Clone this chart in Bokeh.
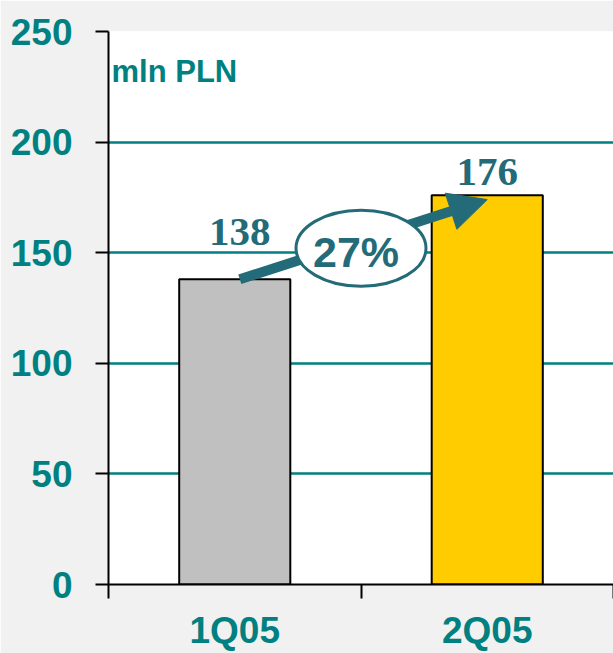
from bokeh.plotting import figure
from bokeh.models import Range1d, FixedTicker, LabelSet, Label, ColumnDataSource, Arrow, NormalHead
from bokeh.core.properties import value
from bokeh.embed import file_html
from bokeh.resources import INLINE

categories = ["1Q05", "2Q05"]
values = [138, 176]
bar_colors = ["#C0C0C0", "#FFCC00"]
y_ticks = [0, 50, 100, 150, 200, 250]
growth_label = "27%"
unit_label = "mln PLN"

TEAL = "#008080"
DARK = "#236B78"
SANS = "Liberation Sans"

xs = [i + 0.5 for i in range(len(categories))]

p = figure(width=613, height=653, output_backend="svg", toolbar_location=None,
           x_range=Range1d(0, len(categories)), y_range=Range1d(y_ticks[0], y_ticks[-1]),
           min_border_left=108, min_border_right=0, min_border_top=31, min_border_bottom=69)
p.outline_line_color = None
p.background_fill_color = "white"
p.border_fill_color = "#f1f1f1"

src = ColumnDataSource(dict(x=xs, top=values, color=bar_colors,
                            lab=[str(v) for v in values],
                            lx=[5, 0], ly=[34, 10]))

p.vbar(x="x", top="top", bottom=0, width=0.44, fill_color="color",
       line_color="black", line_width=2, source=src)

# y axis
p.yaxis.ticker = FixedTicker(ticks=y_ticks)
p.yaxis.axis_line_width = 2
p.yaxis.axis_line_color = "black"
p.yaxis.major_tick_out = 13
p.yaxis.major_tick_in = 0
p.yaxis.major_tick_line_width = 2
p.yaxis.minor_tick_line_color = None
p.yaxis.major_label_standoff = 23
p.yaxis.major_label_text_font = SANS
p.yaxis.major_label_text_font_style = "bold"
p.yaxis.major_label_text_font_size = "37px"
p.yaxis.major_label_text_color = TEAL

# x axis: labels at category centres, ticks at category boundaries
p.xaxis.ticker = FixedTicker(ticks=xs, minor_ticks=list(range(len(categories) + 1)))
p.xaxis.major_label_overrides = {x: c for x, c in zip(xs, categories)}
p.xaxis.axis_line_width = 2
p.xaxis.axis_line_color = "black"
p.xaxis.major_tick_line_color = None
p.xaxis.major_tick_out = 0
p.xaxis.major_tick_in = 0
p.xaxis.minor_tick_out = 14
p.xaxis.minor_tick_in = 0
p.xaxis.minor_tick_line_width = 2
p.xaxis.minor_tick_line_color = "black"
p.xaxis.major_label_standoff = 11
p.xaxis.major_label_text_font = SANS
p.xaxis.major_label_text_font_style = "bold"
p.xaxis.major_label_text_font_size = "37px"
p.xaxis.major_label_text_color = TEAL

p.xgrid.grid_line_color = None
p.ygrid.ticker = FixedTicker(ticks=y_ticks)
p.ygrid.grid_line_color = TEAL
p.ygrid.grid_line_width = 2.5

# value labels
p.add_layout(LabelSet(x="x", y="top", text="lab", source=src, x_offset="lx", y_offset="ly",
                      text_align="center", text_baseline="alphabetic",
                      text_font=value("Liberation Serif"), text_font_style="bold",
                      text_font_size="41px", text_color=DARK))

# growth arrow
p.add_layout(Arrow(x_start=xs[0] + 0.02, y_start=values[0], x_end=xs[1], y_end=values[1] - 2,
                   line_color=DARK, line_width=10,
                   end=NormalHead(size=38, fill_color=DARK, line_color=DARK, line_width=1)))

mid_x = sum(xs) / 2
mid_y = sum(values) / 2 - 5
p.ellipse(x=[mid_x], y=[mid_y], width=130, height=76, width_units="screen",
          height_units="screen", fill_color="white", line_color=DARK, line_width=3,
          level="overlay")
p.text(x=[mid_x], y=[mid_y], text=[growth_label], text_align="center", text_baseline="middle",
       y_offset=4, x_offset=-5,
       text_font=value(SANS), text_font_style="bold", text_font_size="43px",
       text_color=DARK, level="overlay")

p.add_layout(Label(x=0, y=231.9, x_offset=3, text=unit_label, text_align="left",
                   text_baseline="alphabetic", text_font=SANS, text_font_style="bold",
                   text_font_size="31px", text_color=TEAL))

open("out.html", "w").write(file_html(p, INLINE))
